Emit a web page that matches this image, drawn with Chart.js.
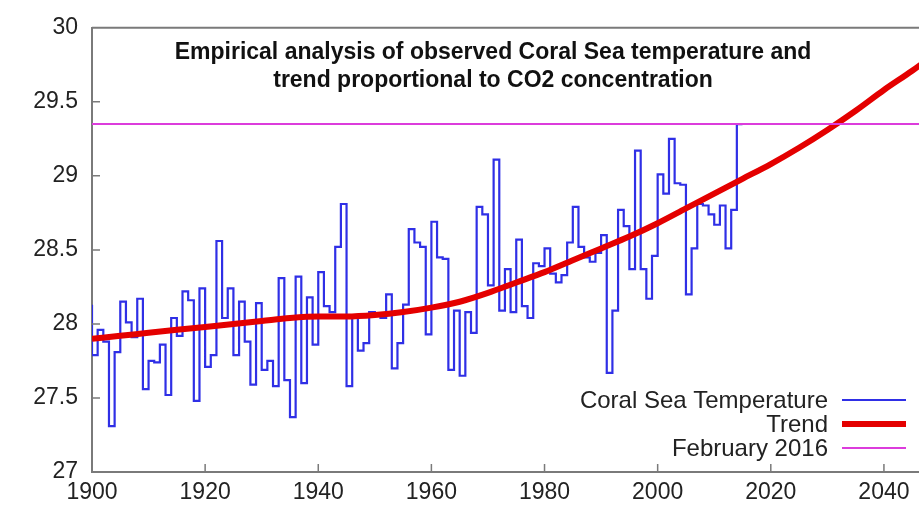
<!DOCTYPE html>
<html lang="en">
<head>
<meta charset="utf-8">
<script src="https://cdn.jsdelivr.net/npm/chart.js@4.4.1/dist/chart.umd.min.js"></script>
<style>
  html, body { margin: 0; padding: 0; background: #fff; }
</style>
</head>
<body>
<canvas id="myChart" width="919" height="509"></canvas>
<script>
// annual Coral Sea temperature
const years = [
  1900, 1901, 1902, 1903, 1904, 1905, 1906, 1907, 1908, 1909,
  1910, 1911, 1912, 1913, 1914, 1915, 1916, 1917, 1918, 1919,
  1920, 1921, 1922, 1923, 1924, 1925, 1926, 1927, 1928, 1929,
  1930, 1931, 1932, 1933, 1934, 1935, 1936, 1937, 1938, 1939,
  1940, 1941, 1942, 1943, 1944, 1945, 1946, 1947, 1948, 1949,
  1950, 1951, 1952, 1953, 1954, 1955, 1956, 1957, 1958, 1959,
  1960, 1961, 1962, 1963, 1964, 1965, 1966, 1967, 1968, 1969,
  1970, 1971, 1972, 1973, 1974, 1975, 1976, 1977, 1978, 1979,
  1980, 1981, 1982, 1983, 1984, 1985, 1986, 1987, 1988, 1989,
  1990, 1991, 1992, 1993, 1994, 1995, 1996, 1997, 1998, 1999,
  2000, 2001, 2002, 2003, 2004, 2005, 2006, 2007, 2008, 2009,
  2010, 2011, 2012, 2013, 2014, 2015
];
const temperature = [
  28.13, 27.79, 27.96, 27.88, 27.31, 27.81, 28.15, 28.01, 27.91, 28.17,
  27.56, 27.75, 27.74, 27.86, 27.52, 28.04, 27.92, 28.22, 28.16, 27.48,
  28.24, 27.71, 27.79, 28.56, 28.04, 28.24, 27.79, 28.15, 27.88, 27.59,
  28.14, 27.69, 27.75, 27.58, 28.31, 27.62, 27.37, 28.32, 27.60, 28.18,
  27.86, 28.35, 28.12, 28.08, 28.52, 28.81, 27.58, 28.05, 27.82, 27.87,
  28.08, 28.07, 28.04, 28.20, 27.70, 27.87, 28.13, 28.64, 28.55, 28.52,
  27.93, 28.69, 28.45, 28.44, 27.69, 28.09, 27.65, 28.08, 27.94, 28.79,
  28.74, 28.26, 29.11, 28.09, 28.37, 28.08, 28.57, 28.12, 28.04, 28.41,
  28.39, 28.51, 28.34, 28.28, 28.33, 28.55, 28.79, 28.52, 28.45, 28.42,
  28.48, 28.60, 27.67, 28.09, 28.77, 28.66, 28.37, 29.17, 28.37, 28.17,
  28.46, 29.01, 28.88, 29.25, 28.95, 28.94, 28.20, 28.51, 28.81, 28.80,
  28.74, 28.67, 28.80, 28.51, 28.77, 29.35
];

// CO2-proportional trend
const trendYears = [
  1900, 1905, 1910, 1915, 1920, 1925, 1930, 1935, 1940, 1945,
  1950, 1955, 1960, 1965, 1970, 1975, 1980, 1985, 1990, 1995,
  2000, 2005, 2010, 2015, 2020, 2025, 2030, 2035, 2040, 2045, 2050
];
const trend = [
  27.90, 27.92, 27.94, 27.96, 27.98, 28.00, 28.02, 28.04, 28.05, 28.05,
  28.06, 28.08, 28.11, 28.15, 28.21, 28.28, 28.35, 28.43, 28.51, 28.59,
  28.68, 28.78, 28.88, 28.98, 29.08, 29.19, 29.31, 29.44, 29.58, 29.71, 29.85
];

// February 2016 level
const febYears = [1900, 2050];
const feb2016 = 29.35;

const xTicks = [1900, 1920, 1940, 1960, 1980, 2000, 2020, 2040];
const yTicks = [27, 27.5, 28, 28.5, 29, 29.5, 30];

const titleLines = [
  "Empirical analysis of observed Coral Sea temperature and",
  "trend proportional to CO2 concentration"
];

const axisColor = "#7a7a7a";
Chart.defaults.font.family = "'Liberation Sans', Arial, sans-serif";
Chart.defaults.color = "#222";

// frame, inward ticks, title and legend the way gnuplot draws them
const gnuplotBits = {
  id: "gnuplotBits",
  afterDraw(chart) {
    const { ctx, chartArea: a, scales } = chart;
    ctx.save();
    ctx.strokeStyle = axisColor;
    ctx.lineWidth = 2;
    ctx.beginPath();
    ctx.moveTo(a.left, a.top);
    ctx.lineTo(a.right, a.top);
    ctx.stroke();

    ctx.lineWidth = 1.5;
    ctx.beginPath();
    scales.y.ticks.forEach(t => {
      const py = scales.y.getPixelForValue(t.value);
      if (py <= a.top + 1 || py >= a.bottom - 1) return;
      ctx.moveTo(a.left, py);
      ctx.lineTo(a.left + 8, py);
    });
    scales.x.ticks.forEach(t => {
      const px = scales.x.getPixelForValue(t.value);
      if (px <= a.left + 1) return;
      ctx.moveTo(px, a.bottom);
      ctx.lineTo(px, a.bottom - 8);
    });
    ctx.stroke();

    // title
    ctx.fillStyle = "#111";
    ctx.font = "bold 23px 'Liberation Sans', Arial, sans-serif";
    ctx.textAlign = "center";
    ctx.textBaseline = "middle";
    titleLines.forEach((line, i) => ctx.fillText(line, 493, 53 + i * 28));

    // legend
    ctx.font = "24px 'Liberation Sans', Arial, sans-serif";
    ctx.textAlign = "right";
    chart.data.datasets.forEach((ds, i) => {
      const ly = 400 + i * 24;
      ctx.fillStyle = "#222";
      ctx.fillText(ds.label, 828, ly + 1);
      ctx.strokeStyle = ds.borderColor;
      ctx.lineWidth = ds.borderWidth;
      ctx.beginPath();
      ctx.moveTo(842, ly);
      ctx.lineTo(906, ly);
      ctx.stroke();
    });
    ctx.restore();
  }
};

const ctx = document.getElementById("myChart").getContext("2d");
const myChart = new Chart(ctx, {
  type: "line",
  data: {
    datasets: [
      {
        label: "Coral Sea Temperature",
        data: years.map((yr, i) => ({ x: yr, y: temperature[i] })),
        stepped: "after",
        borderColor: "#2f2fe6",
        borderWidth: 2.2,
        pointRadius: 0,
        order: 3
      },
      {
        label: "Trend",
        data: trendYears.map((yr, i) => ({ x: yr, y: trend[i] })),
        cubicInterpolationMode: "monotone",
        borderColor: "#e40000",
        borderWidth: 6,
        pointRadius: 0,
        order: 2
      },
      {
        label: "February 2016",
        data: febYears.map(yr => ({ x: yr, y: feb2016 })),
        borderColor: "#dc3cdc",
        borderWidth: 2,
        pointRadius: 0,
        order: 1
      }
    ]
  },
  options: {
    responsive: false,
    animation: false,
    layout: { padding: { top: 22, right: 0, bottom: 0, left: 0 } },
    plugins: { legend: { display: false }, tooltip: { enabled: false } },
    scales: {
      x: {
        type: "linear",
        min: 1900,
        max: 2046.2,
        afterBuildTicks: s => { s.ticks = xTicks.map(v => ({ value: v })); },
        afterFit: s => { s.height = 37; },
        grid: { display: false, drawTicks: false },
        border: { display: true, color: axisColor, width: 2 },
        ticks: {
          padding: 7,
          maxRotation: 0,
          autoSkip: false,
          font: { size: 23 },
          color: "#222",
          callback: v => String(v)
        }
      },
      y: {
        min: 27,
        max: 30,
        afterBuildTicks: s => { s.ticks = yTicks.map(v => ({ value: v })); },
        afterFit: s => { s.width = 92; },
        grid: { display: false, drawTicks: false },
        border: { display: true, color: axisColor, width: 2 },
        ticks: {
          padding: 14,
          font: { size: 23 },
          color: "#222",
          callback: v => String(v)
        }
      }
    }
  },
  plugins: [gnuplotBits]
});
</script>
</body>
</html>
